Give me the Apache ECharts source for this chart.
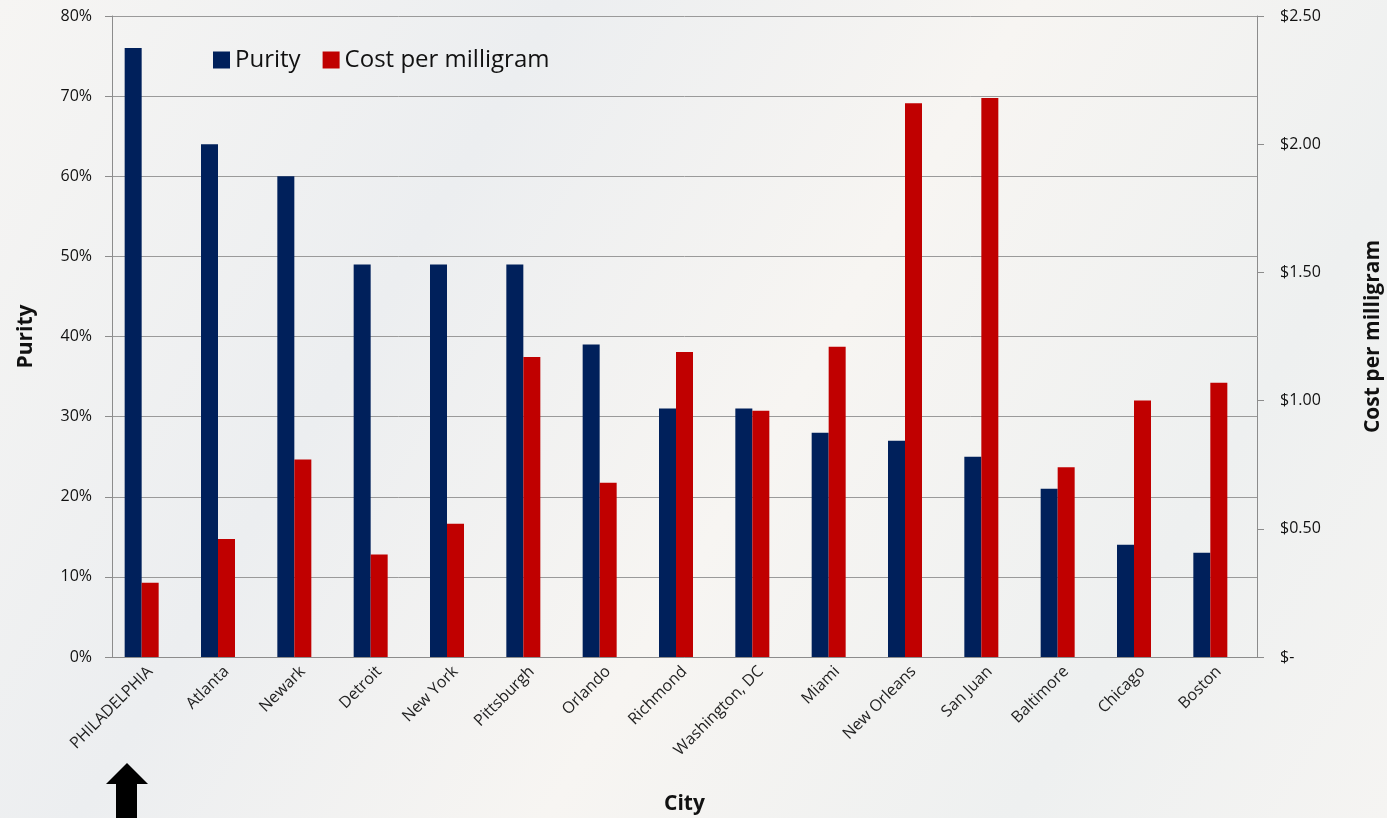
<!DOCTYPE html>
<html>
<head>
<meta charset="utf-8">
<script src="https://cdn.jsdelivr.net/npm/echarts@6/dist/echarts.min.js"></script>
<style>
  html, body { margin: 0; padding: 0; }
  #chart { width: 1387px; height: 818px; }
</style>
</head>
<body>
<div id="chart"></div>
<script>
const cities = ['PHILADELPHIA', 'Atlanta', 'Newark', 'Detroit', 'New York', 'Pittsburgh', 'Orlando', 'Richmond',
  'Washington, DC', 'Miami', 'New Orleans', 'San Juan', 'Baltimore', 'Chicago', 'Boston']
const purity = [76, 64, 60, 49, 49, 49, 39, 31, 31, 28, 27, 25, 21, 14, 13]
const costPerMg = [0.29, 0.46, 0.77, 0.40, 0.52, 1.17, 0.68, 1.19, 0.96, 1.21, 2.16, 2.18, 0.74, 1.00, 1.07]

const font = '"Open Sans", Lato, sans-serif'
const chart = echarts.init(document.getElementById('chart'))

chart.setOption({
  backgroundColor: new echarts.graphic.LinearGradient(0, 0, 1, 1, [
    { offset: 0, color: '#f6f5f3' },
    { offset: 0.3, color: '#eceef0' },
    { offset: 0.55, color: '#f7f5f2' },
    { offset: 0.8, color: '#eef0f0' },
    { offset: 1, color: '#f5f4f2' }
  ]),
  textStyle: { fontFamily: font },
  legend: {
    data: ['Purity', 'Cost per milligram'],
    left: 208,
    top: 43,
    itemWidth: 17,
    itemHeight: 17,
    itemGap: 22,
    icon: 'rect',
    textStyle: { fontSize: 24, color: '#111', fontFamily: font }
  },
  grid: { left: 112, right: 130, top: 16, bottom: 161, outerBoundsMode: 'none' },
  xAxis: {
    type: 'category',
    data: cities,
    name: 'City',
    nameLocation: 'middle',
    nameGap: 137,
    nameTextStyle: { fontSize: 21, fontWeight: 'bold', color: '#111' },
    axisLine: { lineStyle: { color: '#8c8c8c' } },
    axisTick: { length: 6, lineStyle: { color: '#8c8c8c' } },
    axisLabel: { rotate: 45, margin: 12, fontSize: 16, color: '#222' }
  },
  yAxis: [{
    type: 'value',
    min: 0,
    max: 80,
    interval: 10,
    name: 'Purity',
    nameLocation: 'middle',
    nameGap: 75,
    nameTextStyle: { fontSize: 21, fontWeight: 'bold', color: '#111' },
    axisLine: { show: true, lineStyle: { color: '#8c8c8c' } },
    axisTick: { show: true, length: 7, lineStyle: { color: '#8c8c8c' } },
    axisLabel: { formatter: '{value}%', margin: 20, fontSize: 16, color: '#111' },
    splitLine: { lineStyle: { color: '#9a9a9a' } }
  }, {
    type: 'value',
    min: 0,
    max: 2.5,
    interval: 0.5,
    name: 'Cost per milligram',
    nameLocation: 'middle',
    nameGap: 106,
    nameTextStyle: { fontSize: 21, fontWeight: 'bold', color: '#111' },
    axisLine: { show: true, lineStyle: { color: '#8c8c8c' } },
    axisTick: { show: true, length: 7, lineStyle: { color: '#8c8c8c' } },
    axisLabel: {
      margin: 23, fontSize: 16, color: '#111',
      formatter: v => v === 0 ? '$-' : '$' + v.toFixed(2)
    },
    splitLine: { show: false }
  }],
  series: [{
    name: 'Purity',
    type: 'bar',
    yAxisIndex: 0,
    barWidth: 17,
    barGap: '0%',
    itemStyle: { color: '#00205b' },
    data: purity
  }, {
    name: 'Cost per milligram',
    type: 'bar',
    yAxisIndex: 1,
    barWidth: 17,
    barGap: '0%',
    itemStyle: { color: '#c00000' },
    data: costPerMg
  }, {
    // empty slot, the bars sit left of the category centre like the original
    name: 'spacer',
    type: 'bar',
    yAxisIndex: 0,
    barWidth: 17,
    barGap: '0%',
    data: cities.map(() => '-')
  }],
  graphic: [{
    type: 'polygon',
    shape: {
      points: [[127, 763], [148, 784], [137, 784], [137, 818], [116, 818], [116, 784], [106, 784]]
    },
    style: { fill: '#000' }
  }]
})
</script>
</body>
</html>
